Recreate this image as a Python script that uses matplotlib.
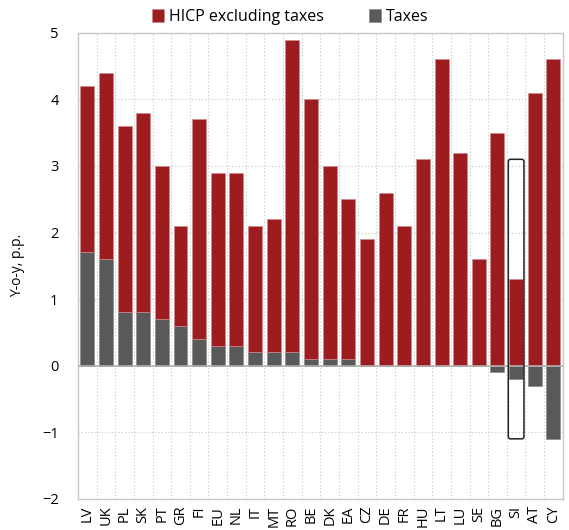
import numpy as np
import matplotlib
matplotlib.use("Agg")
import matplotlib.pyplot as plt
from matplotlib.patches import FancyBboxPatch

plt.rcParams["font.family"] = ["Open Sans", "DejaVu Sans"]

countries = ["LV", "UK", "PL", "SK", "PT", "GR", "FI", "EU", "NL", "IT", "MT", "RO", "BE",
             "DK", "EA", "CZ", "DE", "FR", "HU", "LT", "LU", "SE", "BG", "SI", "AT", "CY"]
hicp_excl_taxes = [2.5, 2.8, 2.8, 3.0, 2.3, 1.5, 3.3, 2.6, 2.6, 1.9, 2.0, 4.7, 3.9,
                   2.9, 2.4, 1.9, 2.6, 2.1, 3.1, 4.6, 3.2, 1.6, 3.5, 1.3, 4.1, 4.6]
taxes = [1.7, 1.6, 0.8, 0.8, 0.7, 0.6, 0.4, 0.3, 0.3, 0.2, 0.2, 0.2, 0.1,
         0.1, 0.1, 0.0, 0.0, 0.0, 0.0, 0.0, 0.0, 0.0, -0.1, -0.2, -0.3, -1.1]
highlight = "SI"
highlight_range = (-1.1, 3.1)

RED = "#9C1C20"
GREY = "#595959"

x = np.arange(len(countries))
tax = np.array(taxes)
red_bottom = np.clip(tax, 0, None)

fig = plt.figure(figsize=(5.69, 5.30), dpi=100)
ax = fig.add_axes([0.137, 0.059, 0.852, 0.879])

w = 0.75
ax.bar(x, tax, width=w, color=GREY, edgecolor="#8a8a8a", linewidth=0.5, zorder=3,
       label="Taxes")
ax.bar(x, hicp_excl_taxes, bottom=red_bottom, width=w, color=RED, edgecolor="#d08a8c",
       linewidth=0.5, zorder=3, label="HICP excluding taxes")

# highlight box
i = countries.index(highlight)
box = FancyBboxPatch((i - 0.42, highlight_range[0]), 0.84,
                     highlight_range[1] - highlight_range[0],
                     boxstyle="round,pad=0,rounding_size=0.12",
                     mutation_aspect=1 / 3.5,
                     fill=False, edgecolor="#222222", linewidth=1.1, zorder=4)
ax.add_patch(box)

ax.axhline(0, color="#b0b0b0", linewidth=1.2, zorder=3.5)

ax.set_xlim(-0.5, len(countries) - 0.5)
ax.set_ylim(-2, 5)
ax.set_yticks(range(-2, 6))
ax.set_xticks(x)
ax.set_xticklabels(countries, rotation=90, fontsize=10.5)
ax.set_xticks(x[:-1] + 0.5, minor=True)
ax.tick_params(axis="both", length=0, pad=4, labelsize=10.5)
ax.tick_params(axis="y", pad=14)
ax.tick_params(axis="x", pad=5)
ax.tick_params(axis="x", which="minor", length=0)

ax.grid(True, axis="y", which="major", linestyle=(0, (1, 2)), color="#c8c8c8", linewidth=0.8, zorder=0)
ax.grid(True, axis="x", which="minor", linestyle=(0, (1, 2)), color="#c8c8c8", linewidth=0.8, zorder=0)

for s in ax.spines.values():
    s.set_color("#c8c8c8")
    s.set_linewidth(1.0)

ax.set_ylabel("Y-o-y, p.p.", fontsize=10, labelpad=12)

handles, labels = ax.get_legend_handles_labels()
fig.legend(handles[::-1], labels[::-1], loc="upper center", bbox_to_anchor=(0.51, 1.01),
           ncol=2, frameon=False, fontsize=11.5, handlelength=0.8, handleheight=0.8,
           handletextpad=0.3, columnspacing=2.8)

fig.savefig("out.png", dpi=100)
